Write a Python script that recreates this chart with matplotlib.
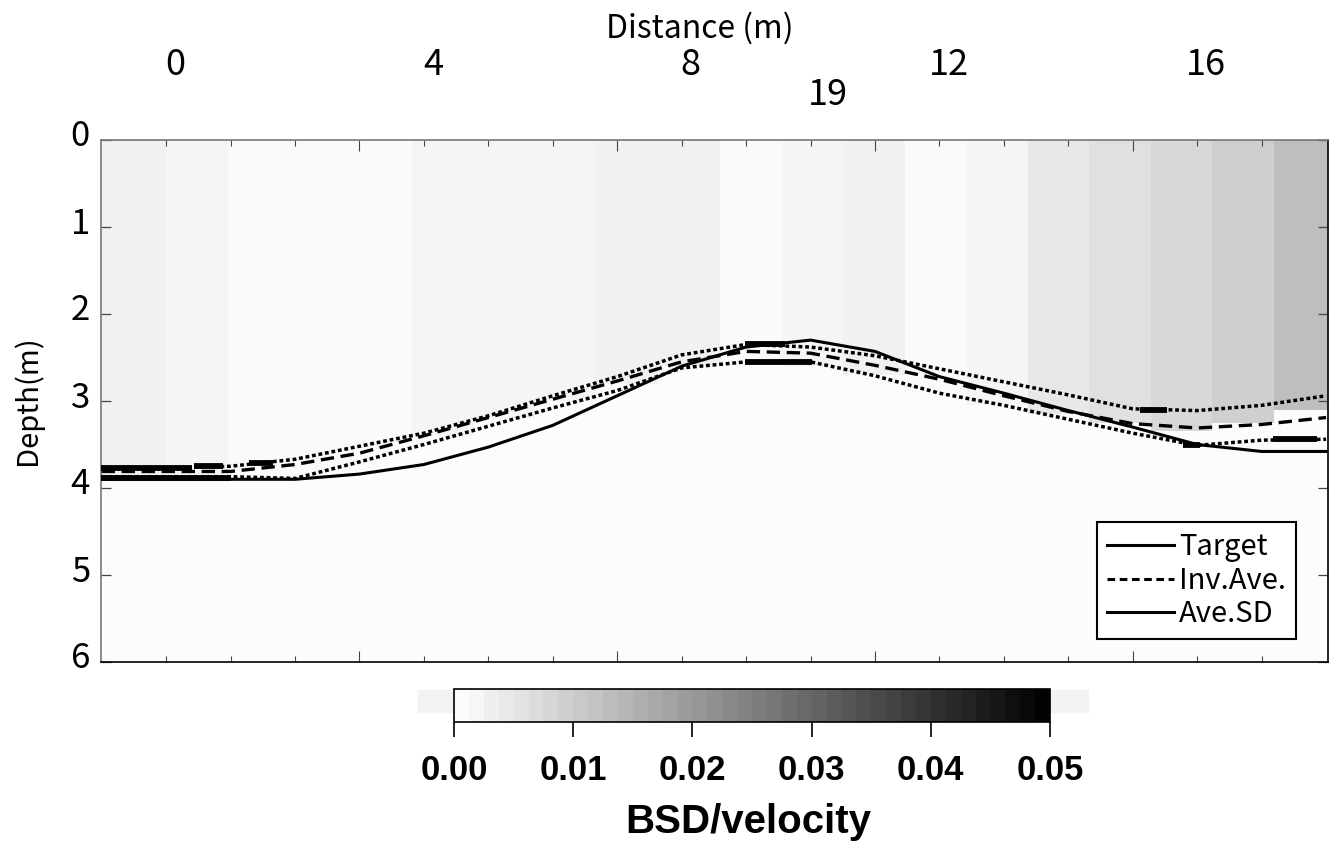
import numpy as np
import matplotlib
matplotlib.use("Agg")
import matplotlib.pyplot as plt
from matplotlib.lines import Line2D
from matplotlib.patches import Rectangle
from matplotlib.transforms import ScaledTranslation

plt.rcParams["font.family"] = ["Noto Sans CJK JP", "DejaVu Sans"]

# profile positions (m) and depths (m)
DIST = list(range(-1, 19))
TARGET = [3.90, 3.90, 3.90, 3.90, 3.84, 3.73, 3.53, 3.28, 2.94, 2.60,
          2.38, 2.30, 2.43, 2.72, 2.91, 3.11, 3.30, 3.50, 3.58, 3.58]
INV_AVE = [3.81, 3.81, 3.81, 3.73, 3.60, 3.40, 3.19, 2.98, 2.77, 2.55,
           2.43, 2.45, 2.59, 2.75, 2.94, 3.12, 3.26, 3.31, 3.27, 3.19]
SD_UPPER = [3.77, 3.77, 3.75, 3.67, 3.52, 3.37, 3.17, 2.94, 2.72, 2.47,
            2.35, 2.38, 2.48, 2.63, 2.78, 2.93, 3.09, 3.11, 3.05, 2.94]
SD_LOWER = [3.87, 3.87, 3.87, 3.89, 3.70, 3.50, 3.29, 3.08, 2.88, 2.62,
            2.55, 2.55, 2.71, 2.91, 3.05, 3.21, 3.37, 3.51, 3.45, 3.44]

# short thick segments on the SD curves
BAR_X0 = [-1.04, 0.43, 1.29, 8.98, 8.98, 15.11, 15.78, 17.18, -1.04]
BAR_X1 = [0.40, 0.88, 1.66, 9.60, 10.02, 15.53, 16.04, 17.86, 1.00]
BAR_DEPTH = [3.77, 3.75, 3.71, 2.35, 2.55, 3.10, 3.51, 3.44, 3.89]

# BSD/velocity section: upper layer per column, base of that layer, lower layer value
COL_BSD = [0.0029, 0.0020, 0.0010, 0.0010, 0.0010, 0.0020, 0.0020, 0.0020,
           0.0029, 0.0029, 0.0010, 0.0020, 0.0029, 0.0010, 0.0020, 0.0045,
           0.0061, 0.0077, 0.0094, 0.0128]
COL_BASE = [3.90, 3.90, 3.88, 3.78, 3.60, 3.40, 3.20, 3.00, 2.80, 2.60,
            2.55, 2.60, 2.70, 2.88, 3.03, 3.15, 3.25, 3.34, 3.24, 3.12]
LOWER_BSD = 0.0006

TOP_LABELS = [0, 4, 8, 12, 16]
CBAR_TICKS = [0.00, 0.01, 0.02, 0.03, 0.04, 0.05]

W, H = 1330, 849
fig = plt.figure(figsize=(W / 100, H / 100), dpi=100)
ax = fig.add_axes([101 / W, 1 - 662 / H, 1227 / W, 522 / H])

# section image
col_w = 0.955
x_edges = (np.arange(len(COL_BSD) + 1) - 1) * col_w
x_edges[0] = -1.02
z_edges = np.arange(0, 6.001, 0.05)
z_mid = (z_edges[:-1] + z_edges[1:]) / 2
grid = np.where(z_mid[:, None] < np.array(COL_BASE)[None, :],
                np.array(COL_BSD)[None, :], LOWER_BSD)
mesh = ax.pcolormesh(x_edges, z_edges, grid, cmap="gray_r", vmin=0, vmax=0.05,
                     shading="flat")

ax.plot(DIST, TARGET, color="black", lw=2.2, zorder=5)
ax.plot(DIST, INV_AVE, color="black", lw=2.4, dashes=(4.0, 2.0), zorder=5)
ax.plot(DIST, SD_UPPER, color="black", lw=2.5, dashes=(1.1, 0.8), zorder=5)
ax.plot(DIST, SD_LOWER, color="black", lw=2.5, dashes=(1.1, 0.8), zorder=5)
ax.hlines(BAR_DEPTH, BAR_X0, BAR_X1, color="black", lw=4.2, zorder=6)

ax.set_xlim(-1.01, 18.03)
ax.set_ylim(5.97, 0)

ax.set_xticks([3, 7, 11, 15])
ax.set_xticks(range(0, 18), minor=True)
ax.set_xticklabels([])
ax.tick_params(axis="x", which="both", direction="in", top=True, bottom=True,
               labelbottom=False, labeltop=False, color="#444444")
ax.tick_params(axis="x", which="major", length=8, width=0.8)
ax.tick_params(axis="x", which="minor", length=4.5, width=0.8)

ax.set_yticks(range(0, 7))
ax.tick_params(axis="y", direction="in", left=True, right=True, length=7,
               width=0.9, labelsize=25, pad=8, color="#444444")
for lab in ax.get_yticklabels():
    lab.set_transform(lab.get_transform() + ScaledTranslation(0, 0.07, fig.dpi_scale_trans))

for side in ("top", "left"):
    ax.spines[side].set_color("#777777")
ax.spines["bottom"].set_color("black")
ax.spines["right"].set_color("black")
for sp in ax.spines.values():
    sp.set_linewidth(1.2)

sec = ax.secondary_xaxis("top", functions=(lambda x: x - 0.14, lambda x: x + 0.14))
sec.set_xticks(TOP_LABELS)
sec.tick_params(length=0, pad=41, labelsize=26)
sec.spines["top"].set_visible(False)

fig.text(700 / W, 1 - 28 / H, "Distance (m)", ha="center", va="center", fontsize=23)
fig.text(828 / W, 1 - 95 / H, "19", ha="center", va="center", fontsize=26)
fig.text(28 / W, 1 - 400 / H, "Depth(m)", ha="center", va="center",
         rotation=90, fontsize=21)

handles = [Line2D([], [], color="black", lw=2.2),
           Line2D([], [], color="black", lw=2.2, dashes=(2.5, 1.5)),
           Line2D([], [], color="black", lw=2.2)]
leg = ax.legend(handles, ["Target", "Inv.Ave.", "Ave.SD"], loc="upper left",
                bbox_to_anchor=(1097 / W, 1 - 522 / H), bbox_transform=fig.transFigure,
                fontsize=21, frameon=True, fancybox=False, framealpha=1,
                borderaxespad=0, borderpad=0.35, handlelength=2.3,
                handletextpad=0.15, labelspacing=0.12)
leg.get_frame().set_edgecolor("black")
leg.get_frame().set_linewidth(1.5)
leg.set_zorder(10)

# faint band behind the colour bar
fig.patches.append(Rectangle((418 / W, 1 - 712 / H), 670 / W, 22 / H,
                             transform=fig.transFigure, color="#f3f3f3", zorder=-5))

cax = fig.add_axes([454 / W, 1 - 722 / H, 596 / W, 33 / H])
cb = fig.colorbar(mesh, cax=cax, orientation="horizontal",
                  boundaries=np.linspace(0, 0.05, 41))
cb.set_ticks(CBAR_TICKS)
cb.set_ticklabels([f"{t:.2f}" for t in CBAR_TICKS])
cb.outline.set_linewidth(1.2)
cax.tick_params(direction="out", length=11, width=1.2, pad=12)
for lab in cax.get_xticklabels():
    lab.set_fontfamily("Liberation Sans")
    lab.set_fontweight("bold")
    lab.set_fontsize(25)
fig.text(748 / W, 1 - 822 / H, "BSD/velocity", ha="center", va="center",
         fontsize=29, fontweight="bold", family="Liberation Sans")

fig.savefig("out.png", dpi=100)
